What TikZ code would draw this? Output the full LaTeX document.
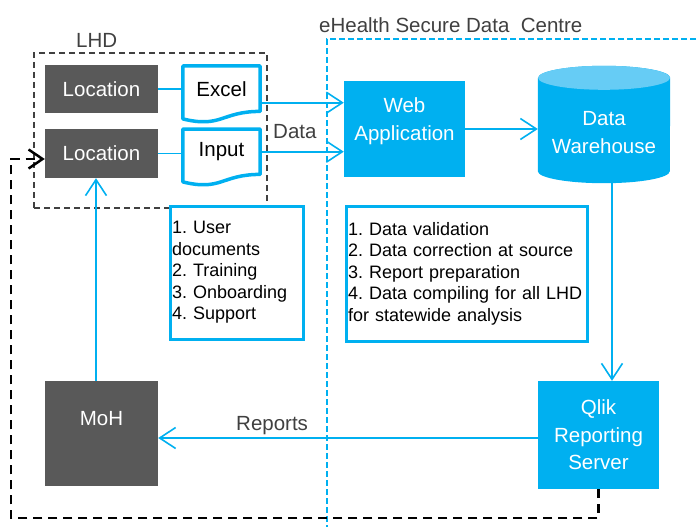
\documentclass[tikz,border=0pt]{standalone}
\usepackage{fontspec}
\setmainfont{Liberation Sans}
\usepackage{tikz}
\usetikzlibrary{positioning,calc,arrows.meta}
\definecolor{skyblue}{HTML}{00B0F0}
\definecolor{lightsky}{HTML}{66CCF5}
\definecolor{slate}{HTML}{595959}
\definecolor{labelgray}{HTML}{404040}
\frenchspacing

\begin{document}
\begin{tikzpicture}[x=1pt,y=-1pt]
  \tikzstyle{big}=[font=\fontsize{20.5}{27.5}\selectfont]
  \tikzstyle{small}=[font=\fontsize{18}{21.5}\selectfont]
  \tikzstyle{graybox}=[big, fill=slate, text=white, inner sep=0pt]
  \tikzstyle{bluebox}=[big, fill=skyblue, text=white, inner sep=0pt, align=center]
  \tikzstyle{docnode}=[big, inner sep=0pt, minimum width=77pt, minimum height=45pt]
  \tikzstyle{listbox}=[small, draw=skyblue, line width=3pt, fill=white, align=left, inner xsep=2pt, inner ysep=0pt, anchor=north west]
  \tikzstyle{lbl}=[big, text=labelgray, inner sep=0pt, anchor=base west]
  \tikzstyle{conn}=[draw=skyblue, line width=1.6pt]
  \tikzstyle{arr}=[conn, -{Straight Barb[length=16pt,width=21pt]}]

  \useasboundingbox (0,0) rectangle (699,527);

  % eHealth frame
  \draw[skyblue, line width=2pt, dash pattern=on 6pt off 3pt] (705,39) -- (327,39) -- (327,530);
  \node[lbl] (ehlbl) at (319,33) {eHealth Secure Data\ \ Centre};

  % LHD
  \node[draw=labelgray, line width=2pt, dash pattern=on 6pt off 4pt, minimum width=233pt, minimum height=155pt, inner sep=0pt] (lhd) at (150.5,130.5) {};
  \node[lbl] (lhdlbl) at (76,48) {LHD};

  \node[graybox, minimum width=113pt, minimum height=48pt] (loc1) at (101.5,89) {Location};
  \node[graybox, minimum width=113pt, minimum height=49pt] (loc2) at (101.5,153.5) {Location};

  \node[docnode] (excel) at (221.5,88.7) {Excel};
  \node[docnode] (input) at (221.5,151.7) {Input};
  \foreach \d in {excel,input}
    \draw[skyblue, line width=3.5pt, line join=round] (\d.north west) -- (\d.north east) -- (\d.south east)
      .. controls (\d.south) and ($(\d.south)+(0,17)$) .. ($(\d.south west)+(0,7.5)$) -- cycle;

  \node[bluebox, minimum width=121pt, minimum height=96pt,
        label={[big,text=white,align=center,yshift=8pt]center:Web\\Application}] (web) at (404.5,129) {};

  % data warehouse drum
  \path node[minimum width=132pt, minimum height=117pt, inner sep=0pt] (dw) at (604,124.5) {};
  \fill[skyblue] ($(dw.north west)+(0,12)$) -- ($(dw.south west)+(0,-12)$)
    arc[start angle=180, end angle=360, x radius=66pt, y radius=12pt]
    -- ($(dw.north east)+(0,12)$)
    arc[start angle=0, end angle=180, x radius=66pt, y radius=12pt] -- cycle;
  \fill[lightsky] ($(dw.north)+(0,12)$) ellipse[x radius=66pt, y radius=12pt];
  \node[big, text=white, align=center, inner sep=0pt] (dwtext) at ($(dw.center)+(0,8)$) {Data\\Warehouse};

  \node[bluebox, minimum width=121pt, minimum height=108pt] (qlik) at (598.5,435) {Qlik\\Reporting\\Server};
  \node[graybox, minimum width=113pt, minimum height=105pt,
        label={[big,text=white,yshift=15pt]center:MoH}] (moh) at (101.5,433.5) {};

  % notes
  \node[listbox, text width=129pt, minimum height=133pt] (support) at (168.5,204.5)
    {1. User\\documents\\2. Training\\3. Onboarding\\4. Support};
  \node[listbox, text width=237pt, minimum height=135.5pt] (tasks) at (344.5,204.5)
    {1. Data validation\\2. Data correction at source\\3. Report preparation\\4. Data compiling for all LHD\\for statewide analysis};

  % connectors
  \draw[conn] (loc1.east) -- (loc1.east -| excel.west);
  \draw[conn] (loc2.east) -- (loc2.east -| input.west);
  \draw[arr] ([yshift=-14pt]excel.east) coordinate (e1) -- (e1 -| web.west);
  \draw[arr] (input.east) -- (input.east -| web.west);
  \node[lbl] (datalbl) at (273,138) {Data};
  \draw[arr] (web.east) -- (web.east -| dw.west);
  \draw[arr] ([xshift=8pt]dw.south) coordinate (d1) -- (d1 |- qlik.north);
  \draw[arr] ([yshift=-3pt]qlik.west) coordinate (q1) -- (q1 -| moh.east);
  \node[lbl] (replbl) at (236,430) {Reports};
  \draw[arr] ([xshift=-5.5pt]moh.north) coordinate (m1) -- (m1 |- loc2.south);
  \coordinate (fb) at (11,518);
  \draw[black, line width=2.5pt, dash pattern=on 9pt off 6pt, -{Straight Barb[length=14pt,width=19pt]}]
    (qlik.south) |- (fb) |- ([yshift=-5.5pt]loc2.west);
\end{tikzpicture}
\end{document}
